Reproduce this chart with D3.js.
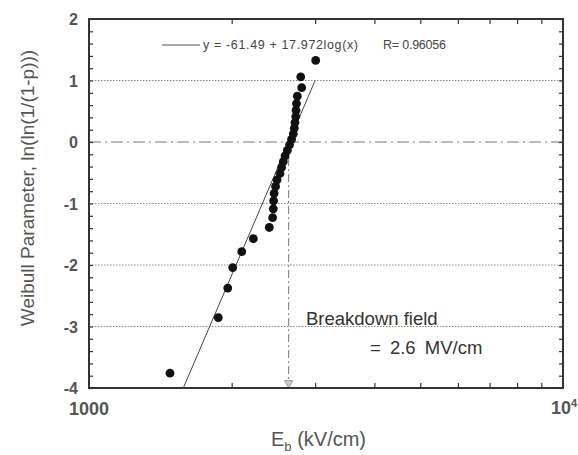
<!DOCTYPE html>
<html>
<head>
<meta charset="utf-8">
<script src="https://cdn.jsdelivr.net/npm/d3@7"></script>
<style>
  body { margin: 0; background: #fff; }
  text { font-family: "Liberation Sans", Arial, sans-serif; }
</style>
</head>
<body>
<svg id="canvas" width="578" height="455"></svg>
<script>
// breakdown field data (kV/cm) and Weibull parameter
const fieldKV = [1482, 1874, 1962, 2010, 2100, 2222, 2401, 2440, 2448, 2452,
                 2458, 2475, 2493, 2529, 2548, 2570, 2592, 2621, 2649, 2675,
                 2698, 2711, 2720, 2730, 2734, 2740, 2751, 2810, 2797, 3008]
const weibull = [-3.759, -2.855, -2.375, -2.042, -1.784, -1.572, -1.390, -1.231, -1.087, -0.956,
                 -0.835, -0.722, -0.615, -0.512, -0.414, -0.319, -0.227, -0.136, -0.046, 0.043,
                 0.133, 0.224, 0.317, 0.414, 0.515, 0.624, 0.745, 0.884, 1.059, 1.327]

const fitX = [1581, 3000]
const fitY = [-4, 1]
const breakdownField = 2638

const yTicks = [-4, -3, -2, -1, 0, 1, 2]
const yGrid = [1, -1, -2, -3]
const xMinorTicks = [2000, 3000, 4000, 5000, 6000, 7000, 8000, 9000]

const margin = { left: 89, right: 15, top: 19, bottom: 67 }
const width = 578
const height = 455

const svg = d3.select("#canvas")

const x = d3.scaleLog()
    .domain([1000, 10000])
    .range([margin.left, width - margin.right])

const y = d3.scaleLinear()
    .domain([-4, 2])
    .range([height - margin.bottom, margin.top])

const axisColor = "#333"

// grid lines
svg.selectAll(".grid")
    .data(yGrid)
    .enter()
    .append("line")
    .attr("x1", x(1000))
    .attr("x2", x(10000))
    .attr("y1", d => y(d))
    .attr("y2", d => y(d))
    .attr("stroke", "#888")
    .attr("stroke-width", 1)
    .attr("stroke-dasharray", "1.5,1.5")

svg.append("line")
    .attr("x1", x(1000))
    .attr("x2", x(10000))
    .attr("y1", y(0))
    .attr("y2", y(0))
    .attr("stroke", "#777")
    .attr("stroke-width", 1)
    .attr("stroke-dasharray", "12,4,2,4")

// breakdown field marker line
svg.append("line")
    .attr("x1", x(breakdownField))
    .attr("x2", x(breakdownField))
    .attr("y1", y(0))
    .attr("y2", y(-4) - 6)
    .attr("stroke", "#777")
    .attr("stroke-width", 1)
    .attr("stroke-dasharray", "8,3,2,3")

svg.append("path")
    .attr("d", d3.symbol().type(d3.symbolTriangle).size(30))
    .attr("transform", "translate(" + x(breakdownField) + "," + (y(-4) - 5) + ") rotate(180)")
    .attr("fill", "#ccc")
    .attr("stroke", "#888")
    .attr("stroke-width", 0.8)

// axes (ticks inward on all sides)
const yAxisLeft = d3.axisLeft(y).tickValues(d3.range(-4, 2.01, 0.2)).tickSize(-4).tickFormat("")
const yAxisRight = d3.axisRight(y).tickValues(d3.range(-4, 2.01, 0.2)).tickSize(-4).tickFormat("")
const xAxisBottom = d3.axisBottom(x).tickValues(xMinorTicks).tickSize(-5).tickFormat("")
const xAxisTop = d3.axisTop(x).tickValues(xMinorTicks).tickSize(-5).tickFormat("")

svg.append("g").attr("transform", "translate(" + margin.left + ",0)").call(yAxisLeft)
svg.append("g").attr("transform", "translate(" + (width - margin.right) + ",0)").call(yAxisRight)
svg.append("g").attr("transform", "translate(0," + (height - margin.bottom) + ")").call(xAxisBottom)
svg.append("g").attr("transform", "translate(0," + margin.top + ")").call(xAxisTop)

svg.selectAll(".domain").remove()
svg.selectAll(".tick line").attr("stroke", axisColor).attr("stroke-width", 1.2)

// frame
svg.append("rect")
    .attr("x", x(1000))
    .attr("y", y(2))
    .attr("width", x(10000) - x(1000))
    .attr("height", y(-4) - y(2))
    .attr("fill", "none")
    .attr("stroke", axisColor)
    .attr("stroke-width", 2)

// fit line
svg.append("line")
    .attr("x1", x(fitX[0]))
    .attr("y1", y(fitY[0]))
    .attr("x2", x(fitX[1]))
    .attr("y2", y(fitY[1]))
    .attr("stroke", "#444")
    .attr("stroke-width", 1)

// data points
svg.selectAll(".dot")
    .data(fieldKV)
    .enter()
    .append("circle")
    .attr("cx", d => x(d))
    .attr("cy", (d, i) => y(weibull[i]))
    .attr("r", 4.4)
    .attr("fill", "#111")

// legend
svg.append("line")
    .attr("x1", 162).attr("x2", 200)
    .attr("y1", 45).attr("y2", 45)
    .attr("stroke", "#555")
    .attr("stroke-width", 1)

svg.append("text")
    .attr("x", 203).attr("y", 49)
    .attr("font-size", 12.5)
    .attr("textLength", 155)
    .attr("lengthAdjust", "spacing")
    .attr("fill", "#444")
    .text("y = -61.49 + 17.972log(x)")

svg.append("text")
    .attr("x", 383).attr("y", 49)
    .attr("font-size", 12.5)
    .attr("textLength", 63)
    .attr("lengthAdjust", "spacing")
    .attr("fill", "#444")
    .text("R= 0.96056")

// tick labels
svg.selectAll(".ylabel")
    .data(yTicks)
    .enter()
    .append("text")
    .attr("x", 78)
    .attr("y", d => y(d) + 6)
    .attr("text-anchor", "end")
    .attr("font-size", 16)
    .attr("font-weight", "bold")
    .attr("fill", "#555")
    .text(d => d)

svg.append("text")
    .attr("x", x(1000)).attr("y", 415)
    .attr("text-anchor", "middle")
    .attr("font-size", 18)
    .attr("font-weight", "bold")
    .attr("fill", "#555")
    .text("1000")

const tenK = svg.append("text")
    .attr("x", 551).attr("y", 414)
    .attr("font-size", 18)
    .attr("font-weight", "bold")
    .attr("fill", "#555")
tenK.append("tspan").text("10")
tenK.append("tspan").attr("dy", -7).attr("font-size", 11).text("4")

// axis titles
svg.append("text")
    .attr("transform", "translate(34,188) rotate(-90)")
    .attr("text-anchor", "middle")
    .attr("font-size", 19)
    .attr("fill", "#555")
    .text("Weibull Parameter, ln(ln(1/(1-p)))")

const xTitle = svg.append("text")
    .attr("x", 271).attr("y", 446)
    .attr("font-size", 20)
    .attr("fill", "#555")
xTitle.append("tspan").text("E")
xTitle.append("tspan").attr("dy", 5).attr("font-size", 13).text("b")
xTitle.append("tspan").attr("dy", -5).text(" (kV/cm)")

// annotation
svg.append("text")
    .attr("x", 306).attr("y", 325)
    .attr("font-family", "'Open Sans', sans-serif")
    .attr("font-size", 18.5)
    .attr("fill", "#333")
    .text("Breakdown field")

svg.append("text")
    .attr("x", 370).attr("y", 354)
    .attr("font-family", "'Open Sans', sans-serif")
    .attr("font-size", 18.5)
    .attr("word-spacing", 4)
    .attr("fill", "#333")
    .text("= 2.6 MV/cm")
</script>
</body>
</html>
